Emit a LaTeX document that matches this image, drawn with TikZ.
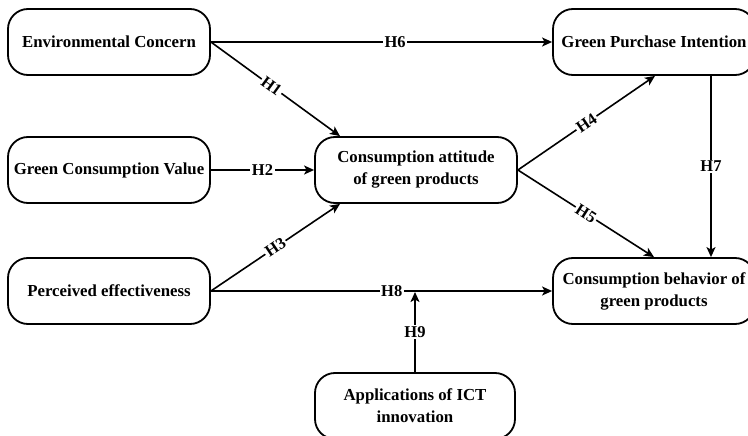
\documentclass[tikz,border=0pt]{standalone}
\usepackage{fontspec}
\setmainfont{Liberation Serif}
\usetikzlibrary{calc,arrows.meta}
\begin{document}
\begin{tikzpicture}[x=1pt,y=-1pt,
 box/.style={draw, line width=1.8pt, rounded corners=20pt, minimum width=202pt, minimum height=66pt, align=center, font=\fontsize{16.8}{22}\selectfont\bfseries, inner sep=0pt},
 conn/.style={line width=1.6pt, -{Stealth[length=10pt,width=9pt,inset=2.5pt]}},
 lab/.style={fill=white, inner sep=1.5pt, font=\fontsize{16.5}{18}\selectfont\bfseries}]
\useasboundingbox (0,0) rectangle (748,436);
\fill[white] (0,0) rectangle (748,436);
\node[box] (EC) at (109,42) {Environmental Concern};
\node[box] (GCV) at (109,170) {Green Consumption Value};
\node[box] (PE) at (109,291) {Perceived effectiveness};
\node[box] (CA) at (416,170) {Consumption attitude\\of green products};
\node[box] (GPI) at (654,42) {Green Purchase Intention};
\node[box] (CB) at (654,291) {Consumption behavior of\\green products};
\node[box, minimum width=200pt] (ICT) at (415,406) {Applications of ICT\\innovation};
\coordinate (J) at ($(ICT.north |- PE.east)+(0,1)$);
\draw[conn] (EC.east) -- node[lab,pos=0.54]{H6} (GPI.west);
\draw[conn] (EC.east) -- node[lab,sloped,pos=0.47]{H1} ($(CA.north)+(-76,0)$);
\draw[conn] (GCV.east) -- node[lab]{H2} (CA.west);
\draw[conn] (PE.east) -- node[lab,sloped]{H3} ($(CA.south)+(-76,0)$);
\draw[conn] (CA.east) -- node[lab,sloped]{H4} ($(GPI.south)+(1,0)$);
\draw[conn] (CA.east) -- node[lab,sloped]{H5} (CB.north);
\draw[conn] ($(GPI.south)+(57,0)$) -- node[lab]{H7} ($(CB.north)+(57,0)$);
\draw[conn] (PE.east) -- node[lab,pos=0.53]{H8} (CB.west);
\draw[conn] (ICT.north) -- node[lab]{H9} (J);
\end{tikzpicture}
\end{document}
